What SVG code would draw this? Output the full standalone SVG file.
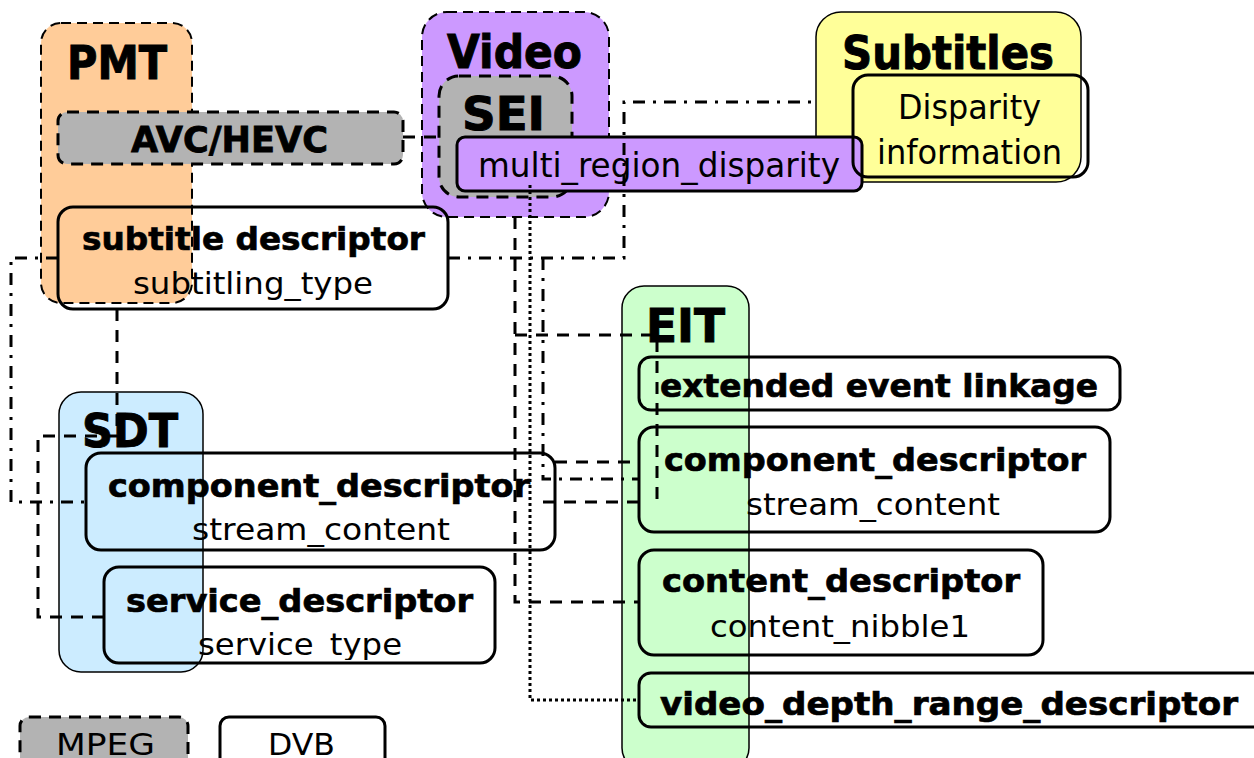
<svg xmlns="http://www.w3.org/2000/svg" width="1254" height="758" viewBox="0 0 1254 758">
<style>
.t{font-family:"DejaVu Sans","Liberation Sans",sans-serif;fill:#000}
.big{font-size:47px;font-weight:bold;stroke:#000;stroke-width:1}
.b{font-size:32px;font-weight:bold;stroke:#000;stroke-width:0.7}
.n{font-size:31px}
.node{fill:none;stroke:#000;stroke-width:3}
.mpeg{fill:#B3B3B3;stroke:#000;stroke-width:3;stroke-dasharray:12 8}
.cd{stroke:#000;stroke-width:2;stroke-dasharray:10 6}
.cs{stroke:#000;stroke-width:1.5}
.c{fill:none;stroke:#000;stroke-width:3}
.dash{stroke-dasharray:12 9}
.dd{stroke-dasharray:12 8 3 8}
.dot{stroke-dasharray:3 3}
</style>
<defs>
<clipPath id="clipSdtComp"><rect x="86" y="453" width="469" height="97" rx="15"/></clipPath>
<clipPath id="clipSdtServ"><rect x="104" y="567" width="391" height="93" rx="15"/></clipPath>
</defs>
<rect width="1254" height="758" fill="#fff"/>

<g id="pmt">
<rect x="41" y="23" width="151" height="280" rx="20" fill="#FFCC99" class="cd"/>
<text class="t big" x="67" y="79" textLength="100" lengthAdjust="spacingAndGlyphs">PMT</text>
</g>
<g id="video">
<rect x="422" y="12" width="187" height="205" rx="25" fill="#CC99FF" class="cd"/>
<text class="t big" x="447" y="68" textLength="135" lengthAdjust="spacingAndGlyphs">Video</text>
</g>
<g id="subtitles">
<rect x="816" y="12" width="265" height="170" rx="25" fill="#FFFF99" class="cs"/>
<text class="t big" x="842" y="69" textLength="212" lengthAdjust="spacingAndGlyphs">Subtitles</text>
</g>
<g id="eit">
<rect x="622" y="286" width="127" height="484" rx="22" fill="#CCFFCC" class="cs"/>
<text class="t big" x="646" y="342" textLength="79" lengthAdjust="spacingAndGlyphs">EIT</text>
</g>
<g id="sdt">
<rect x="59" y="392" width="144" height="280" rx="22" fill="#CCECFF" class="cs"/>
<text class="t big" x="82" y="447" textLength="96" lengthAdjust="spacingAndGlyphs">SDT</text>
</g>

<g id="avc-hevc">
<rect x="58" y="112" width="345" height="52" rx="9" class="mpeg"/>
<text class="t" x="131" y="152" font-size="35" font-weight="bold" stroke="#000" stroke-width="0.8" textLength="197" lengthAdjust="spacingAndGlyphs">AVC/HEVC</text>
</g>
<g id="sei">
<rect x="439" y="76" width="133" height="121" rx="20" class="mpeg"/>
<text class="t" x="462" y="130" font-size="46" font-weight="bold" stroke="#000" stroke-width="1" textLength="83" lengthAdjust="spacingAndGlyphs">SEI</text>
</g>
<g id="multi-region-disparity">
<rect x="457" y="137" width="405" height="54" rx="8" fill="#CC99FF" stroke="#000" stroke-width="3"/>
<text class="t" x="478" y="177" font-size="33" textLength="362" lengthAdjust="spacingAndGlyphs">multi_region_disparity</text>
</g>
<g id="disparity-information">
<rect x="853" y="75" width="235" height="102" rx="15" class="node"/>
<text class="t" x="898" y="119" font-size="33" textLength="143" lengthAdjust="spacingAndGlyphs">Disparity</text>
<text class="t" x="877" y="164" font-size="33" textLength="185" lengthAdjust="spacingAndGlyphs">information</text>
</g>
<g id="subtitle-descriptor">
<rect x="58" y="207" width="390" height="102" rx="15" class="node"/>
<text class="t b" x="82" y="250" textLength="343" lengthAdjust="spacingAndGlyphs">subtitle descriptor</text>
<text class="t n" x="133" y="294" textLength="240" lengthAdjust="spacingAndGlyphs">subtitling_type</text>
</g>
<g id="eit-extended-event-linkage">
<rect x="639" y="357" width="481" height="53" rx="12" class="node"/>
<text class="t b" x="660" y="397" textLength="438" lengthAdjust="spacingAndGlyphs">extended event linkage</text>
</g>
<g id="eit-component-descriptor">
<rect x="639" y="427" width="471" height="105" rx="15" class="node"/>
<text class="t b" x="664" y="471" textLength="422" lengthAdjust="spacingAndGlyphs">component_descriptor</text>
<text class="t n" x="746" y="515" textLength="254" lengthAdjust="spacingAndGlyphs">stream_content</text>
</g>
<g id="eit-content-descriptor">
<rect x="639" y="550" width="404" height="105" rx="15" class="node"/>
<text class="t b" x="662" y="592" textLength="358" lengthAdjust="spacingAndGlyphs">content_descriptor</text>
<text class="t n" x="710" y="637" textLength="260" lengthAdjust="spacingAndGlyphs">content_nibble1</text>
</g>
<g id="eit-video-depth-range-descriptor">
<rect x="639" y="673" width="630" height="54" rx="12" class="node"/>
<text class="t b" x="660" y="715" textLength="578" lengthAdjust="spacingAndGlyphs">video_depth_range_descriptor</text>
</g>
<g id="sdt-component-descriptor">
<rect x="86" y="453" width="469" height="97" rx="15" class="node"/>
<text class="t b" x="108" y="497" textLength="422" lengthAdjust="spacingAndGlyphs">component_descriptor</text>
<text class="t n" x="192" y="540" textLength="258" lengthAdjust="spacingAndGlyphs" clip-path="url(#clipSdtComp)">stream_content</text>
</g>
<g id="sdt-service-descriptor">
<rect x="104" y="567" width="391" height="96" rx="15" class="node"/>
<text class="t b" x="126" y="612" textLength="347" lengthAdjust="spacingAndGlyphs">service_descriptor</text>
<text class="t n" x="198" y="655" textLength="204" lengthAdjust="spacingAndGlyphs" clip-path="url(#clipSdtServ)">service_type</text>
</g>

<g id="legend-mpeg">
<rect x="20" y="717" width="168" height="60" rx="9" class="mpeg"/>
<text class="t" x="56" y="755" font-size="30" textLength="99" lengthAdjust="spacingAndGlyphs">MPEG</text>
</g>
<g id="legend-dvb">
<rect x="220" y="717" width="165" height="60" rx="9" class="node"/>
<text class="t" x="268" y="755" font-size="30" textLength="67" lengthAdjust="spacingAndGlyphs">DVB</text>
</g>

<g id="connectors" class="c">
<path class="dash" d="M403,137 H439"/>
<path class="dd" d="M448,258 H624 V102 H816"/>
<path class="dd" d="M58,258 H11 V502 H86"/>
<path class="dd" d="M543,258 V479 H639"/>
<path class="dash" d="M117,309 V436 H38 V617 H104"/>
<path class="dash" d="M515,217 V602 H639"/>
<path class="dash" d="M515,335 H657 V500"/>
<path class="dash" d="M555,462 H639"/>
<path class="dash" d="M543,502 H648"/>
<path class="dot" d="M530,185 V700 H639"/>
</g>
</svg>
